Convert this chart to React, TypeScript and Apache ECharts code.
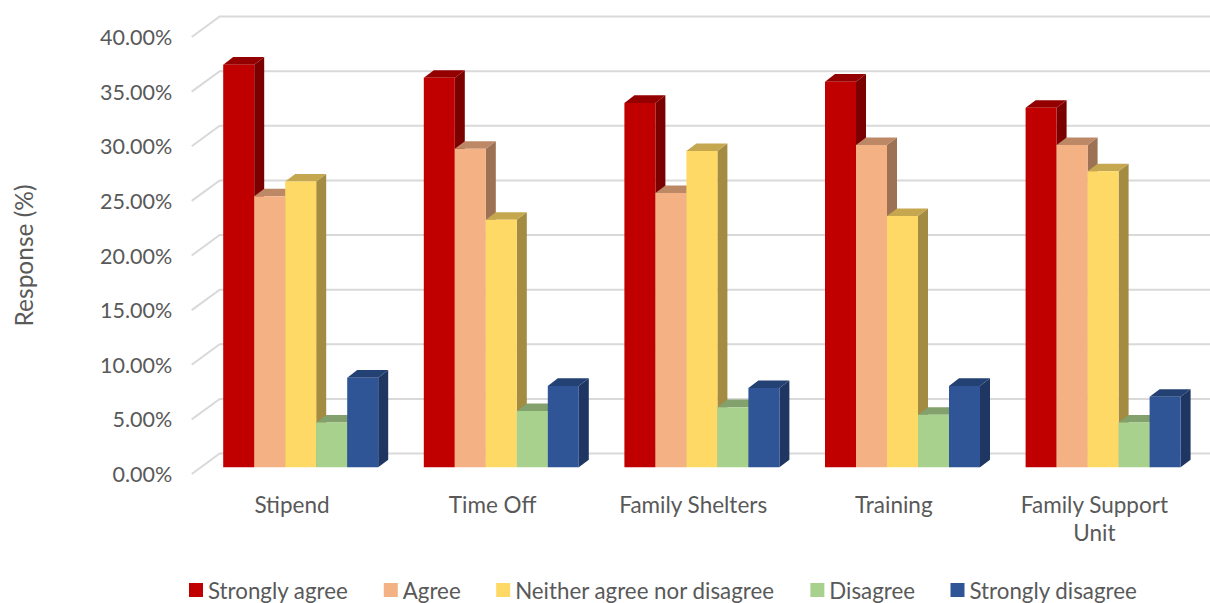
import React, { useEffect, useRef } from "react";
import * as echarts from "echarts";

const categories = ["Stipend", "Time Off", "Family Shelters", "Training", "Family Support\nUnit"];
const stronglyAgree = [36.85, 35.65, 33.35, 35.3, 32.9];
const agree = [24.8, 29.15, 25.1, 29.5, 29.5];
const neither = [26.15, 22.65, 28.95, 23.0, 27.1];
const disagree = [4.1, 5.15, 5.5, 4.8, 4.1];
const stronglyDisagree = [8.2, 7.45, 7.25, 7.45, 6.45];
const ticks = [0, 5, 10, 15, 20, 25, 30, 35, 40];

const seriesDefs = [
  { name: "Strongly agree", values: stronglyAgree, color: "#C00000" },
  { name: "Agree", values: agree, color: "#F4B183" },
  { name: "Neither agree nor disagree", values: neither, color: "#FFD966" },
  { name: "Disagree", values: disagree, color: "#A9D18E" },
  { name: "Strongly disagree", values: stronglyDisagree, color: "#2F5597" },
];

const TEXT = "#595959";
const FONT = "Lato";
// Oblique projection of the 3D box: wall depth, bar depth and the bars' inset on the floor.
const WALL_DX = 28;
const WALL_DY = -20.5;
const BAR_DX = 10;
const BAR_DY = -7.6;
const INSET_DX = 8.7;
const INSET_DY = -6.7;
const BAR_SHARE = 31 / 200.6;

function shade(hex: string, k: number) {
  const n = parseInt(hex.slice(1), 16);
  const c = [(n >> 16) & 255, (n >> 8) & 255, n & 255].map((v) => Math.round(v * k));
  return `rgb(${c[0]},${c[1]},${c[2]})`;
}

function wallLines(params: any, api: any) {
  const y = api.coord([0, api.value(1)])[1];
  const x0 = params.coordSys.x;
  const x1 = x0 + params.coordSys.width;
  return {
    type: "polyline",
    shape: {
      points: [
        [x0, y],
        [x0 + WALL_DX, y + WALL_DY],
        [x1 + WALL_DX, y + WALL_DY],
      ],
    },
    style: { fill: "none", stroke: "#D9D9D9", lineWidth: 2 },
  };
}

function boxBar(seriesIndex: number, color: string) {
  return (_params: any, api: any) => {
    const idx = api.value(0);
    const top = api.coord([idx, api.value(1)]);
    const base = api.coord([idx, 0]);
    const w = api.size([1, 0])[0] * BAR_SHARE;
    const x = top[0] + INSET_DX + (seriesIndex - 2.5) * w;
    const yTop = top[1] + INSET_DY;
    const yBase = base[1] + INSET_DY;
    return {
      type: "group",
      children: [
        {
          type: "polygon",
          shape: {
            points: [
              [x + w, yTop],
              [x + w + BAR_DX, yTop + BAR_DY],
              [x + w + BAR_DX, yBase + BAR_DY],
              [x + w, yBase],
            ],
          },
          style: { fill: shade(color, 0.64) },
        },
        {
          type: "polygon",
          shape: {
            points: [
              [x, yTop],
              [x + BAR_DX, yTop + BAR_DY],
              [x + w + BAR_DX, yTop + BAR_DY],
              [x + w, yTop],
            ],
          },
          style: { fill: shade(color, 0.77) },
        },
        {
          type: "rect",
          shape: { x, y: yTop, width: w, height: yBase - yTop },
          style: { fill: color },
        },
      ],
    };
  };
}

export default function App() {
  const ref = useRef<HTMLDivElement>(null);

  useEffect(() => {
    const chart = echarts.init(ref.current!, null, { renderer: "svg" });
    chart.setOption({
      animation: false,
      textStyle: { fontFamily: FONT },
      grid: { left: 191.7, top: 37, width: 1003, height: 437 },
      legend: {
        left: 184,
        top: 574,
        icon: "rect",
        itemWidth: 14,
        itemHeight: 14,
        itemGap: 35.5,
        padding: [5, 5, 0, 5],
        textStyle: { color: TEXT, fontSize: 22.3, lineHeight: 22, fontFamily: FONT },
        data: seriesDefs.map((s) => s.name),
      },
      xAxis: {
        type: "category",
        data: categories,
        axisLine: { show: false },
        axisTick: { show: false },
        splitLine: { show: false },
        axisLabel: { color: TEXT, fontSize: 22.5, fontFamily: FONT, margin: 16, lineHeight: 28, interval: 0 },
      },
      yAxis: {
        type: "value",
        min: 0,
        max: 40,
        interval: 5,
        name: "Response (%)",
        nameLocation: "middle",
        nameGap: 156,
        nameTextStyle: { color: TEXT, fontSize: 24.5, fontFamily: FONT },
        axisLine: { show: false },
        axisTick: { show: false },
        splitLine: { show: false },
        axisLabel: {
          color: TEXT,
          fontSize: 21.5,
          fontFamily: FONT,
          margin: 19.5,
          formatter: (v: number) => `${v.toFixed(2)}%`,
        },
      },
      series: [
        {
          type: "custom",
          name: "walls",
          silent: true,
          renderItem: wallLines,
          encode: { x: 0, y: 1 },
          data: ticks.map((t) => [0, t]),
        },
        ...seriesDefs.map((s, i) => ({
          type: "custom",
          name: s.name,
          itemStyle: { color: s.color },
          renderItem: boxBar(i, s.color),
          encode: { x: 0, y: 1 },
          data: s.values.map((v, c) => [c, v]),
        })),
      ],
    });
    return () => chart.dispose();
  }, []);

  return <div ref={ref} style={{ position: "absolute", left: 0, top: 0, width: 1210, height: 603, background: "#fff" }} />;
}
